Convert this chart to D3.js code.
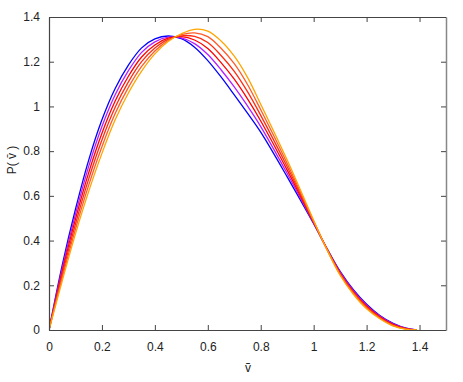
<!DOCTYPE html>
<html>
<head>
<meta charset="utf-8">
<script src="https://cdn.jsdelivr.net/npm/d3@7"></script>
<style>
  body { margin: 0; background: #fff; }
  text { font-family: "Liberation Sans Narrow", "Liberation Sans", Arial, sans-serif; font-size: 12px; fill: #222; }
</style>
</head>
<body>
<script>
// sample points along v
const vValues = [0, 0.05, 0.1, 0.15, 0.2, 0.25, 0.3, 0.35, 0.4, 0.45, 0.5, 0.55, 0.6, 0.65, 0.7, 0.75, 0.8, 0.9, 1.0, 1.05, 1.1, 1.15, 1.2, 1.25, 1.3, 1.35, 1.39];

const blueP   = [0, 0.29,  0.54,  0.76,  0.94, 1.08,  1.185, 1.262, 1.302, 1.315, 1.303, 1.265, 1.205, 1.132, 1.052, 0.97,  0.885, 0.685, 0.475, 0.365, 0.262, 0.18,  0.115, 0.065, 0.03,  0.008, 0];
const purpleP = [0, 0.276, 0.518, 0.732, 0.91, 1.052, 1.16,  1.242, 1.289, 1.31,  1.307, 1.281, 1.232, 1.164, 1.087, 1.002, 0.91,  0.70,  0.478, 0.364, 0.259, 0.176, 0.111, 0.062, 0.027, 0.007, 0];
const redP    = [0, 0.262, 0.496, 0.704, 0.88, 1.024, 1.135, 1.221, 1.275, 1.305, 1.312, 1.297, 1.259, 1.196, 1.122, 1.034, 0.935, 0.715, 0.481, 0.363, 0.255, 0.172, 0.107, 0.059, 0.025, 0.006, 0];
const red2P   = [0, 0.248, 0.474, 0.676, 0.85, 0.996, 1.11,  1.20,  1.261, 1.30,  1.316, 1.313, 1.286, 1.228, 1.157, 1.066, 0.96,  0.73,  0.484, 0.362, 0.252, 0.168, 0.103, 0.056, 0.022, 0.005, 0];
const orRedP  = [0, 0.234, 0.452, 0.648, 0.82, 0.968, 1.085, 1.179, 1.248, 1.295, 1.321, 1.329, 1.312, 1.26,  1.191, 1.098, 0.985, 0.745, 0.487, 0.361, 0.248, 0.164, 0.099, 0.053, 0.02,  0.004, 0];
const orangeP = [0, 0.22,  0.43,  0.62,  0.79, 0.94,  1.06,  1.158, 1.235, 1.29,  1.325, 1.345, 1.337, 1.293, 1.225, 1.13,  1.01,  0.76,  0.49,  0.36,  0.245, 0.16,  0.095, 0.05,  0.018, 0.003, 0];

const seriesList = [blueP, purpleP, redP, red2P, orRedP, orangeP];
const seriesColors = ['#0000ff', '#b41eff', '#ff0000', '#ff2a10', '#ff5a28', '#ffa500'];

const xTicks = [0, 0.2, 0.4, 0.6, 0.8, 1, 1.2, 1.4];
const yTicks = [0, 0.2, 0.4, 0.6, 0.8, 1, 1.2, 1.4];

const W = 463, H = 382;
const mLeft = 49, mRight = 446, mTop = 17, mBottom = 330;

const svg = d3.select(document.body).append('svg')
  .attr('width', W)
  .attr('height', H);

const x = d3.scaleLinear().domain([0, 1.5]).range([mLeft, mRight]);
const y = d3.scaleLinear().domain([0, 1.4]).range([mBottom, mTop]);

const fmt = d => String(+d.toFixed(1));

svg.append('clipPath').attr('id', 'plot')
  .append('rect')
  .attr('x', mLeft).attr('y', mTop)
  .attr('width', mRight - mLeft).attr('height', mBottom - mTop);

// curves
const line = d3.line()
  .x((d, i) => x(vValues[i]))
  .y(d => y(d))
  .curve(d3.curveCatmullRom.alpha(0.5));

svg.append('g').attr('clip-path', 'url(#plot)')
  .selectAll('path')
  .data(seriesList)
  .enter().append('path')
  .attr('d', d => line(d))
  .attr('fill', 'none')
  .attr('stroke', (d, i) => seriesColors[i])
  .attr('stroke-width', 1.3);

// axes, ticks pointing inward on all four sides
const axisColor = '#444';
const bottomAxis = svg.append('g').attr('transform', `translate(0,${mBottom})`)
  .call(d3.axisBottom(x).tickValues(xTicks).tickSizeInner(-5).tickSizeOuter(0).tickPadding(12).tickFormat(fmt));
const leftAxis = svg.append('g').attr('transform', `translate(${mLeft},0)`)
  .call(d3.axisLeft(y).tickValues(yTicks).tickSizeInner(-5).tickSizeOuter(0).tickPadding(9).tickFormat(fmt));
const topAxis = svg.append('g').attr('transform', `translate(0,${mTop})`)
  .call(d3.axisTop(x).tickValues(xTicks).tickSizeInner(-5).tickSizeOuter(0).tickFormat(''));
const rightAxis = svg.append('g').attr('transform', `translate(${mRight},0)`)
  .call(d3.axisRight(y).tickValues(yTicks).tickSizeInner(-5).tickSizeOuter(0).tickFormat(''));

[bottomAxis, leftAxis, topAxis, rightAxis].forEach(a => {
  a.attr('font-family', null).attr('font-size', null);
  a.select('.domain').attr('stroke', axisColor).attr('stroke-width', 1.2);
  a.selectAll('.tick line').attr('stroke', axisColor);
});
rightAxis.select('.domain').attr('stroke', '#888').attr('stroke-width', 1.5);

// axis labels
svg.append('text')
  .attr('x', 248)
  .attr('y', 372)
  .attr('text-anchor', 'middle')
  .text('ṽ');

svg.append('text')
  .attr('transform', 'translate(16,160) rotate(-90)')
  .attr('text-anchor', 'middle')
  .text('P( v̄ )');
</script>
</body>
</html>
